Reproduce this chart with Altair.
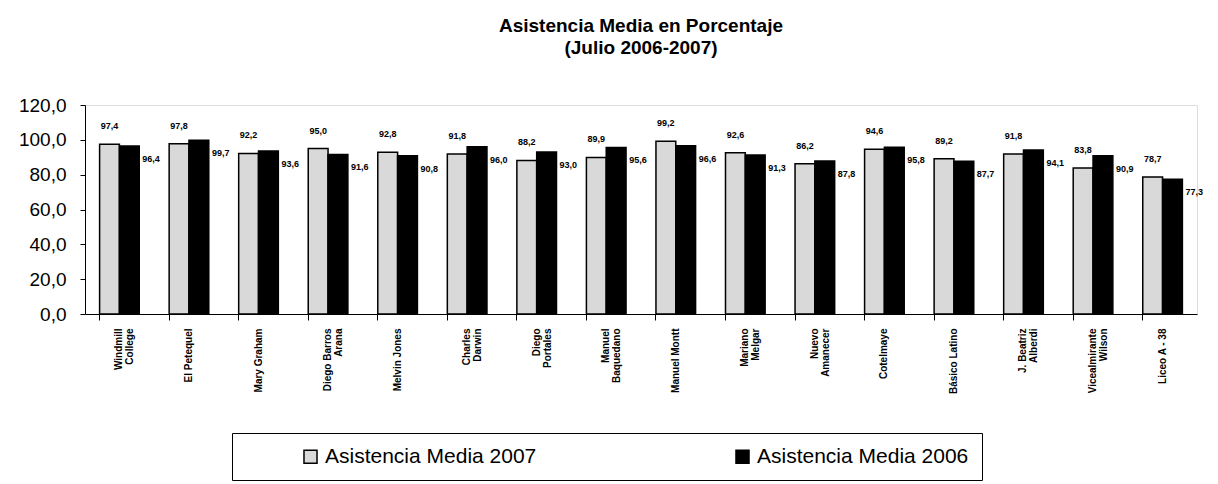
import altair as alt
import pandas as pd

categories = ["Windmill\nCollege", "El Petequel", "Mary Graham", "Diego Barros\nArana",
              "Melvin Jones", "Charles\nDarwin", "Diego\nPortales", "Manuel\nBaquedano",
              "Manuel Montt", "Mariano\nMelgar", "Nuevo\nAmanecer", "Cotelmaye",
              "Básico Latino", "J. Beatriz\nAlberdi", "Vicealmirante\nWilson", "Liceo A - 38"]
asis_2007 = [97.4, 97.8, 92.2, 95.0, 92.8, 91.8, 88.2, 89.9, 99.2, 92.6, 86.2, 94.6, 89.2, 91.8, 83.8, 78.7]
asis_2006 = [96.4, 99.7, 93.6, 91.6, 90.8, 96.0, 93.0, 95.6, 96.6, 91.3, 87.8, 95.8, 87.7, 94.1, 90.9, 77.3]
series = ["Asistencia Media 2007", "Asistencia Media 2006"]

rows = []
for i, c in enumerate(categories):
    rows.append({"cat": c, "serie": series[0], "v": asis_2007[i], "ord": 0})
    rows.append({"cat": c, "serie": series[1], "v": asis_2006[i], "ord": 1})
df = pd.DataFrame(rows)

FONT = "Liberation Sans"

x = alt.X("cat:N", sort=categories, title=None,
          scale=alt.Scale(paddingInner=0.43, paddingOuter=0.21),
          axis=alt.Axis(labelAngle=270, labelFontSize=10, labelFontWeight="bold",
                        labelFont=FONT, labelColor="black", labelAlign="right",
                        labelBaseline="middle", labelPadding=8,
                        labelExpr="split(datum.label, '\\n')", labelLineHeight=11,
                        bandPosition=0, tickColor="black", domainColor="black",
                        tickSize=6, labelLimit=200))
xo = alt.XOffset("serie:N", sort=series, scale=alt.Scale(paddingInner=0, paddingOuter=0))
y = alt.Y("v:Q", title=None, scale=alt.Scale(domain=[0, 120], nice=False),
          axis=alt.Axis(values=[0, 20, 40, 60, 80, 100, 120], grid=False,
                        labelExpr="replace(format(datum.value, '.1f'), '.', ',')",
                        labelFontSize=19, labelFont=FONT, labelColor="black",
                        domainColor="black", tickColor="black", tickSize=5,
                        labelPadding=14))

color = alt.Color("serie:N", sort=series,
                  scale=alt.Scale(domain=series, range=["#d9d9d9", "#000000"]),
                  legend=alt.Legend(title=None, orient="none", legendX=147, legendY=328,
                                    direction="horizontal", symbolType="square",
                                    symbolSize=170, symbolStrokeColor="black",
                                    symbolStrokeWidth=1.5,
                                    labelFontSize=21, labelFont=FONT, labelColor="black",
                                    columnPadding=140, strokeColor="black",
                                    padding=13, symbolOffset=55, labelLimit=400))

bars = alt.Chart(df).mark_bar(stroke="black", strokeWidth=1.5).encode(
    x=x, xOffset=xo, y=y, color=color
)

lbl = alt.Chart(df).transform_calculate(
    t="replace(format(datum.v, '.1f'), '.', ',')"
)
t07 = lbl.transform_filter("datum.ord == 0").mark_text(
    dy=-18, fontSize=9, fontWeight="bold", font=FONT, color="black"
).encode(x=x, xOffset=xo, y=y, text="t:N")
t06 = lbl.transform_filter("datum.ord == 1").mark_text(
    dx=13, dy=13, align="left", fontSize=9, fontWeight="bold", font=FONT, color="black"
).encode(x=x, xOffset=xo, y=y, text="t:N")

chart = alt.layer(bars, t07, t06).properties(
    width=1112, height=209,
    title=alt.TitleParams(["Asistencia Media en Porcentaje", "(Julio 2006-2007)"],
                          fontSize=19, font=FONT, fontWeight="bold", color="black",
                          anchor="middle", offset=38, lineHeight=22),
    padding={"left": 10, "right": 0, "top": 9, "bottom": 0}
).configure_view(stroke=None).configure(background="white")

chart.save("out.html", embed_options={"renderer": "svg", "actions": False})
